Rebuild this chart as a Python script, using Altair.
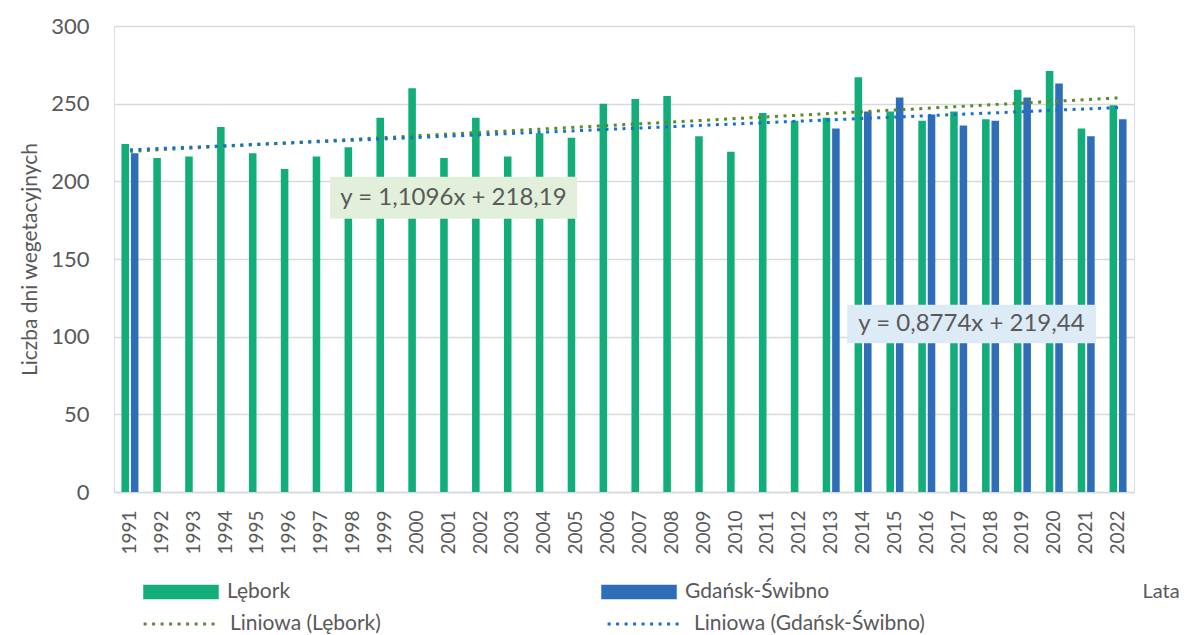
import altair as alt
import pandas as pd

# ---------------- data ----------------
years = [str(y) for y in range(1991, 2023)]
stations = ["Lębork", "Gdańsk-Świbno"]
lebork = [224, 215, 216, 235, 218, 208, 216, 222, 241, 260,
          215, 241, 216, 231, 228, 250, 253, 255, 229, 219,
          244, 239, 241, 267, 245, 239, 245, 240, 259, 271,
          234, 249]
gdansk = [218] + [None] * 21 + [234, 245, 254, 243, 236, 239, 254, 263, 229, 240]

trend_names = ["Liniowa (Lębork)", "Liniowa (Gdańsk-Świbno)"]
trend_years = [1991, 2022]
lebork_trend = [219.3, 253.7]
gdansk_trend = [220.3, 247.5]

eq_texts = ["y = 1,1096x + 218,19", "y = 0,8774x + 219,44"]
eq_x = [2001.15, 2017.4]
eq_y = [189.4, 108.2]
eq_box_x = [1997.28, 2013.5]
eq_box_x2 = [2005.03, 2021.31]
eq_box_y = [175.9, 95.8]
eq_box_y2 = [203.0, 120.6]
eq_fill = ["#E2EFDA", "#DDEBF7"]

bar_colors = ["#12AD79", "#2E6EB8"]
trend_colors = ["#5A8A30", "#1670CC"]
text_color = "#595959"
grid_color = "#D9D9D9"
FONT = "Lato"

# ---------------- tables ----------------
rows = []
for i, y in enumerate(years):
    rows.append({"year": y, "station": stations[0], "value": lebork[i]})
    if gdansk[i] is not None:
        rows.append({"year": y, "station": stations[1], "value": gdansk[i]})
bar_df = pd.DataFrame(rows)

trend_rows = []
for j, yr in enumerate(trend_years):
    trend_rows.append({"year": yr, "series": trend_names[0], "value": lebork_trend[j]})
    trend_rows.append({"year": yr, "series": trend_names[1], "value": gdansk_trend[j]})
trend_df = pd.DataFrame(trend_rows)

eq_df = pd.DataFrame({
    "text": eq_texts, "x": eq_x, "y": eq_y,
    "bx": eq_box_x, "bx2": eq_box_x2, "by": eq_box_y, "by2": eq_box_y2,
    "fill": eq_fill,
})

# ---------------- scales / axes ----------------
y_scale = alt.Scale(domain=[0, 300], nice=False)
y_axis = alt.Axis(
    title="Liczba dni wegetacyjnych",
    values=[0, 50, 100, 150, 200, 250, 300],
    labelFontSize=22, labelColor=text_color, labelFont=FONT, labelPadding=25,
    ticks=False, domain=False,
    gridColor=grid_color, gridWidth=1.5,
    titleFontSize=21, titleFontWeight="normal", titleColor=text_color, titleFont=FONT,
    titleX=-84, titleBaseline="middle",
)
xq_scale = alt.Scale(domain=[1990.5, 2022.5], nice=False, zero=False)

bars = alt.Chart(bar_df).mark_bar().encode(
    x=alt.X(
        "year:N", sort=years,
        scale=alt.Scale(domain=years, paddingInner=0.467, paddingOuter=0.2335),
        axis=alt.Axis(
            title="Lata", labelAngle=270, labelPadding=18, labelFontSize=19,
            labelColor=text_color, labelFont=FONT,
            domainColor=grid_color, domainWidth=1.5, ticks=False,
            titleAngle=0, titleX=1028, titleY=99, titleAlign="left",
            titleBaseline="middle", titleFontSize=20, titleFontWeight="normal",
            titleColor=text_color, titleFont=FONT,
        ),
    ),
    xOffset=alt.XOffset("station:N", sort=stations,
                        scale=alt.Scale(domain=stations, paddingInner=0.2, paddingOuter=0)),
    y=alt.Y("value:Q", scale=y_scale, axis=y_axis),
    color=alt.Color(
        "station:N", sort=stations,
        scale=alt.Scale(domain=stations, range=bar_colors),
        legend=alt.Legend(
            title=None, orient="none", legendX=29, legendY=528,
            direction="horizontal", columns=2, columnPadding=310,
            symbolType="M-1,-0.19H1V0.19H-1Z", symbolSize=5700,
            symbolStrokeWidth=0, symbolOpacity=1,
            labelFontSize=21, labelColor=text_color, labelFont=FONT, labelOffset=8,
            labelLimit=400,
        ),
    ),
)

trend = alt.Chart(trend_df).mark_line(strokeWidth=3, strokeDash=[3, 5.5]).encode(
    x=alt.X("year:Q", scale=xq_scale, axis=None),
    y=alt.Y("value:Q", scale=y_scale, axis=y_axis),
    stroke=alt.Stroke(
        "series:N", sort=trend_names,
        scale=alt.Scale(domain=trend_names, range=trend_colors),
        legend=alt.Legend(
            title=None, orient="none", legendX=28, legendY=560,
            direction="horizontal", columns=2, columnPadding=220,
            symbolType="stroke", symbolSize=5300, symbolStrokeWidth=3,
            symbolDash=[3, 5.5],
            labelFontSize=21, labelColor=text_color, labelFont=FONT, labelOffset=12,
            labelLimit=400,
        ),
    ),
)

boxes = alt.Chart(eq_df).mark_rect().encode(
    x=alt.X("bx:Q", scale=xq_scale, axis=None),
    x2="bx2:Q",
    y=alt.Y("by:Q", scale=y_scale, axis=y_axis),
    y2="by2:Q",
    fill=alt.Fill("fill:N", scale=None),
)

labels = alt.Chart(eq_df).mark_text(
    font=FONT, fontSize=24, color=text_color, align="center", baseline="middle"
).encode(
    x=alt.X("x:Q", scale=xq_scale, axis=None),
    y=alt.Y("y:Q", scale=y_scale, axis=y_axis),
    text="text:N",
)

chart = alt.layer(bars, trend, boxes, labels).resolve_scale(
    x="independent"
).properties(
    width=1020, height=466,
    autosize=alt.AutoSizeParams(type="none"),
    padding={"left": 106, "top": 18, "right": 49, "bottom": 142},
).configure_view(stroke=None).configure(font=FONT)

chart.save("out.html", embed_options={"renderer": "svg", "actions": False})
